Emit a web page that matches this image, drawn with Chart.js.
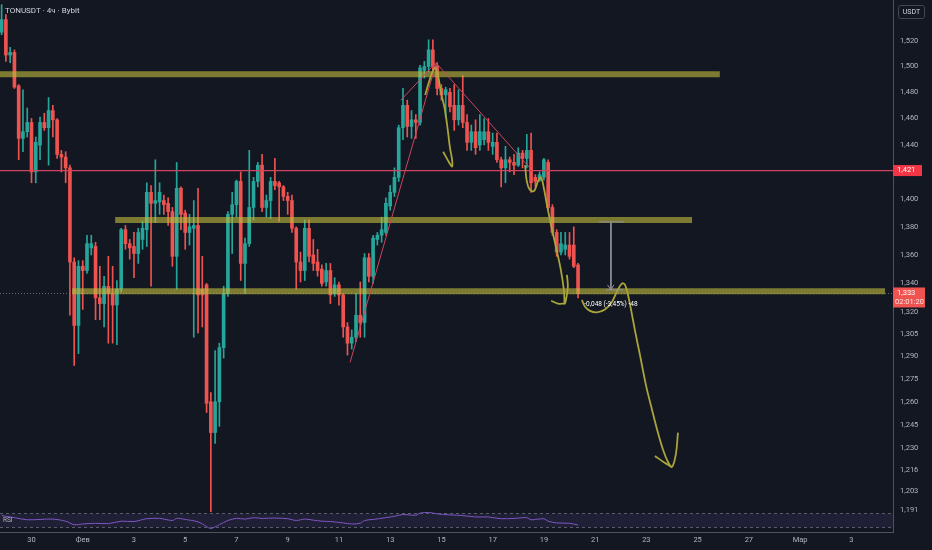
<!DOCTYPE html>
<html>
<head>
<meta charset="utf-8">
<script src="https://cdn.jsdelivr.net/npm/chart.js@4.4.1/dist/chart.umd.min.js"></script>
<style>
  html, body { margin: 0; padding: 0; background: #131722; }
  #wrap { width: 932px; height: 550px; }
</style>
</head>
<body>
<div id="wrap"><canvas id="tonChart" width="932" height="550"></canvas></div>
<script>
// 4h bars, bar 0 = 30 Jan 00:00, first candle on screen is bar -7
const firstBar = -7;

const opens = [
  1.527, 1.537, 1.509, 1.511, 1.485, 1.445, 1.450, 1.457, 1.420, 1.440,
  1.457, 1.453, 1.466, 1.459, 1.433, 1.431, 1.423, 1.355, 1.311, 1.352,
  1.349, 1.365, 1.366, 1.330, 1.326, 1.338, 1.333, 1.325, 1.336, 1.378,
  1.368, 1.366, 1.361, 1.371, 1.378, 1.405, 1.397, 1.398, 1.399, 1.397,
  1.391, 1.359, 1.408, 1.390, 1.376, 1.379, 1.381, 1.336, 1.339, 1.260,
  1.240, 1.260, 1.296, 1.333, 1.389, 1.396, 1.413, 1.354, 1.368, 1.394,
  1.413, 1.425, 1.394, 1.399, 1.413, 1.412, 1.409, 1.402, 1.399, 1.379,
  1.355, 1.349, 1.379, 1.360, 1.355, 1.350, 1.341, 1.349, 1.333, 1.339,
  1.332, 1.310, 1.299, 1.303, 1.318, 1.313, 1.358, 1.345, 1.371, 1.374,
  1.376, 1.395, 1.405, 1.416, 1.453, 1.470, 1.454, 1.459, 1.457, 1.497,
  1.500, 1.513, 1.500, 1.483, 1.478, 1.480, 1.470, 1.459, 1.470, 1.457,
  1.442, 1.450, 1.440, 1.444, 1.450, 1.439, 1.442, 1.429, 1.423, 1.429,
  1.427, 1.425, 1.434, 1.430, 1.436, 1.416, 1.414, 1.416, 1.427, 1.394,
  1.376, 1.362, 1.364, 1.367, 1.367, 1.353
];
const highs = [
  1.549, 1.541, 1.515, 1.513, 1.486, 1.482, 1.468, 1.460, 1.446, 1.461,
  1.464, 1.476, 1.470, 1.460, 1.436, 1.435, 1.425, 1.358, 1.356, 1.356,
  1.374, 1.374, 1.369, 1.352, 1.345, 1.359, 1.352, 1.342, 1.379, 1.381,
  1.371, 1.376, 1.379, 1.384, 1.412, 1.410, 1.429, 1.412, 1.403, 1.401,
  1.394, 1.427, 1.409, 1.392, 1.389, 1.399, 1.408, 1.359, 1.340, 1.266,
  1.294, 1.299, 1.338, 1.391, 1.405, 1.414, 1.420, 1.372, 1.436, 1.416,
  1.427, 1.433, 1.403, 1.416, 1.430, 1.413, 1.410, 1.405, 1.403, 1.380,
  1.362, 1.385, 1.385, 1.371, 1.364, 1.353, 1.354, 1.354, 1.344, 1.341,
  1.333, 1.313, 1.308, 1.333, 1.341, 1.361, 1.361, 1.374, 1.376, 1.387,
  1.401, 1.410, 1.423, 1.455, 1.483, 1.474, 1.466, 1.463, 1.501, 1.504,
  1.521, 1.521, 1.503, 1.486, 1.484, 1.483, 1.486, 1.482, 1.493, 1.463,
  1.455, 1.459, 1.463, 1.460, 1.460, 1.449, 1.449, 1.431, 1.439, 1.431,
  1.433, 1.438, 1.436, 1.448, 1.449, 1.418, 1.420, 1.430, 1.429, 1.396,
  1.378, 1.376, 1.376, 1.376, 1.380, 1.354
];
const lows = [
  1.525, 1.504, 1.503, 1.483, 1.429, 1.435, 1.446, 1.412, 1.412, 1.429,
  1.451, 1.425, 1.446, 1.430, 1.420, 1.412, 1.318, 1.284, 1.292, 1.322,
  1.347, 1.360, 1.315, 1.315, 1.310, 1.299, 1.299, 1.298, 1.334, 1.364,
  1.357, 1.344, 1.354, 1.364, 1.366, 1.338, 1.383, 1.389, 1.389, 1.381,
  1.352, 1.336, 1.378, 1.364, 1.367, 1.303, 1.306, 1.310, 1.253, 1.190,
  1.233, 1.244, 1.289, 1.331, 1.361, 1.387, 1.342, 1.333, 1.366, 1.385,
  1.409, 1.391, 1.387, 1.386, 1.407, 1.384, 1.399, 1.389, 1.376, 1.336,
  1.341, 1.342, 1.355, 1.349, 1.345, 1.338, 1.338, 1.326, 1.331, 1.325,
  1.303, 1.291, 1.295, 1.300, 1.303, 1.303, 1.341, 1.340, 1.367, 1.369,
  1.374, 1.392, 1.402, 1.413, 1.444, 1.446, 1.445, 1.445, 1.455, 1.491,
  1.496, 1.497, 1.478, 1.474, 1.461, 1.465, 1.451, 1.455, 1.453, 1.436,
  1.436, 1.433, 1.436, 1.440, 1.436, 1.433, 1.427, 1.409, 1.412, 1.420,
  1.418, 1.424, 1.423, 1.423, 1.405, 1.409, 1.413, 1.414, 1.392, 1.374,
  1.359, 1.360, 1.360, 1.357, 1.351, 1.330
];
const closes = [
  1.537, 1.509, 1.511, 1.484, 1.445, 1.450, 1.457, 1.420, 1.442, 1.457,
  1.453, 1.466, 1.459, 1.433, 1.431, 1.423, 1.355, 1.311, 1.352, 1.349,
  1.368, 1.368, 1.330, 1.326, 1.338, 1.333, 1.325, 1.336, 1.378, 1.368,
  1.365, 1.361, 1.376, 1.379, 1.405, 1.397, 1.399, 1.405, 1.396, 1.391,
  1.359, 1.408, 1.389, 1.376, 1.380, 1.381, 1.332, 1.332, 1.259, 1.240,
  1.260, 1.296, 1.333, 1.389, 1.396, 1.413, 1.354, 1.368, 1.394, 1.413,
  1.425, 1.394, 1.399, 1.413, 1.410, 1.409, 1.402, 1.399, 1.379, 1.355,
  1.349, 1.379, 1.359, 1.354, 1.349, 1.340, 1.349, 1.332, 1.339, 1.332,
  1.310, 1.299, 1.303, 1.318, 1.313, 1.358, 1.345, 1.372, 1.374, 1.378,
  1.397, 1.405, 1.416, 1.453, 1.470, 1.454, 1.459, 1.457, 1.499, 1.500,
  1.513, 1.500, 1.483, 1.478, 1.482, 1.469, 1.459, 1.470, 1.457, 1.442,
  1.450, 1.438, 1.450, 1.450, 1.442, 1.442, 1.429, 1.423, 1.429, 1.427,
  1.425, 1.434, 1.430, 1.436, 1.412, 1.413, 1.418, 1.429, 1.394, 1.376,
  1.362, 1.368, 1.367, 1.359, 1.352, 1.333
];

const rsiBars = [-7, -4, -1, 2, 5, 8, 10, 12, 15, 18, 21, 24, 27, 30, 33, 34, 36, 39, 41, 42,
  44, 46, 48, 50, 52, 54, 57, 60, 62, 64, 66, 68, 70, 73, 75, 77, 78, 80, 83, 85,
  87, 90, 91, 93, 95, 98, 101, 104, 107, 110, 113, 116, 117, 120, 121, 123, 126, 128];
const rsiValues = [64, 58, 52, 53, 54, 48, 38, 40, 42, 41, 48, 47, 55, 56, 50, 56, 53, 46, 33, 27,
  38, 50, 56, 54, 58, 56, 57, 55, 50, 54, 51, 48, 47, 43, 40, 42, 50, 53, 58, 62,
  67, 65, 71, 73, 69, 66, 64, 60, 60, 55, 56, 58, 52, 55, 48, 43, 42, 37];

// axes
const xTickBars = [0, 12, 24, 36, 48, 60, 72, 84, 96, 108, 120, 132, 144, 156, 168, 180, 192];
const xTickLabels = ['30', 'Фев', '3', '5', '7', '9', '11', '13', '15', '17', '19', '21', '23', '25', '27', 'Мар', '3'];
const yTickValues = [1.52, 1.5, 1.48, 1.46, 1.44, 1.4, 1.38, 1.36, 1.34, 1.32, 1.305, 1.29, 1.275, 1.26, 1.245, 1.23, 1.216, 1.203, 1.191];

const lastPrice = 1.333;
const redLevel = 1.421;

// drawings on the chart: [bar, price]
const zoneHigh = [[-8, 1.494], [161.2, 1.494]];
const zoneMid = [[19.6, 1.385], [154.7, 1.385]];
const zoneLow = [[9.5, 1.3345], [199.9, 1.3345]];
const trendUp = [[74.6, 1.286], [94.7, 1.502]];
const trendTop = [[86.5, 1.474], [94.7, 1.503], [116.7, 1.423]];
const sketchPeak = [[92.2, 1.478], [92.9, 1.486], [93.8, 1.495], [94.5, 1.499], [95.2, 1.493], [95.9, 1.480],
  [96.8, 1.467], [97.5, 1.451], [98.0, 1.438], [98.5, 1.429], [98.5, 1.424], [97.8, 1.427], [97.1, 1.431], [96.4, 1.435]];
const sketchDrop = [[115.6, 1.425], [116.0, 1.413], [116.7, 1.407], [117.7, 1.406], [118.6, 1.413], [119.3, 1.416],
  [120.0, 1.408], [120.7, 1.396], [121.7, 1.381], [122.8, 1.366], [124.0, 1.349], [124.7, 1.335],
  [124.9, 1.326], [125.6, 1.337], [125.4, 1.346]];
const sketchDropHook = [[121.7, 1.328], [123.3, 1.326], [124.9, 1.326]];
const sketchForecast = [[128.9, 1.3285], [129.6, 1.324], [130.8, 1.321], [132.4, 1.320], [134.3, 1.322],
  [135.9, 1.327], [137.3, 1.3355], [138.3, 1.340], [139.0, 1.339], [139.7, 1.332], [140.4, 1.322],
  [141.3, 1.308], [142.5, 1.291], [143.9, 1.271], [145.3, 1.255], [146.7, 1.240], [147.9, 1.229],
  [149.1, 1.221], [150.0, 1.218], [150.9, 1.226], [151.4, 1.240]];
const sketchForecastHook = [[146.0, 1.225], [148.1, 1.221], [150.0, 1.218]];
const measureStem = [[135.7, 1.3836], [135.7, 1.3355]];
const measureTop = [[132.9, 1.3836], [138.8, 1.3836]];
const measureBottom = [[134.5, 1.3355], [138.6, 1.3355]];
const measureArrow = [[134.9, 1.339], [135.7, 1.3355], [136.4, 1.339]];
const measureText = '-0,048 (-3,45%) -48';

const GREEN = '#26a69a';
const RED = '#ef5350';
const xMin = -7.377, xMax = 201.76;

const bars = opens.map((o, k) => firstBar + k);
const isUp = k => closes[k] >= opens[k];
const pts = arr => arr.map(p => ({ x: p[0], y: p[1] }));
const fmt = v => v.toFixed(3).replace('.', ',');

const lineDs = (data, color, width, order, extra) => Object.assign({
  type: 'line', data: pts(data), borderColor: color, borderWidth: width,
  pointRadius: 0, fill: false, order: order, tension: 0
}, extra || {});

const overlay = {
  id: 'overlay',
  beforeDatasetsDraw(chart) {
    const { ctx, chartArea: a, scales: { yr } } = chart;
    const y70 = yr.getPixelForValue(70), y30 = yr.getPixelForValue(30);
    ctx.save();
    ctx.fillStyle = 'rgba(126, 87, 194, 0.12)';
    ctx.fillRect(a.left, y70, a.right - a.left, y30 - y70);
    ctx.strokeStyle = 'rgba(120, 123, 134, 0.7)';
    ctx.lineWidth = 1;
    ctx.setLineDash([3, 3]);
    [70, 30].forEach(v => {
      const y = Math.round(yr.getPixelForValue(v)) + 0.5;
      ctx.beginPath(); ctx.moveTo(a.left, y); ctx.lineTo(a.right, y); ctx.stroke();
    });
    ctx.restore();
  },
  afterDraw(chart) {
    const { ctx, chartArea: a, scales: { x, y, yr } } = chart;
    ctx.save();
    ctx.textBaseline = 'middle';

    // symbol title
    ctx.fillStyle = '#d1d4dc';
    ctx.font = '8px Roboto';
    ctx.textAlign = 'left';
    ctx.fillText('TONUSDT · 4ч · Bybit', 5, 11);

    // RSI pane label
    ctx.fillStyle = '#b2b5be';
    ctx.font = '6.5px Roboto';
    ctx.fillText('RSI', 3, yr.getPixelForValue(50));

    // measure label
    ctx.fillStyle = '#ffffff';
    ctx.font = '6.5px Roboto';
    ctx.textAlign = 'center';
    ctx.fillText(measureText, x.getPixelForValue(measureStem[0][0]), y.getPixelForValue(1.3258));

    // price labels on the axis
    ctx.textAlign = 'left';
    ctx.font = '7.5px Roboto';
    const yr1 = y.getPixelForValue(redLevel);
    ctx.fillStyle = '#f23645';
    ctx.fillRect(a.right, yr1 - 5.5, 29, 11);
    ctx.fillStyle = '#ffffff';
    ctx.fillText(fmt(redLevel), a.right + 4, yr1);

    const yl = y.getPixelForValue(lastPrice);
    ctx.fillStyle = '#ef5350';
    ctx.fillRect(a.right, yl - 6, 32, 20);
    ctx.fillStyle = '#ffffff';
    ctx.fillText(fmt(lastPrice), a.right + 4, yl);
    ctx.fillStyle = '#fde2e2';
    ctx.fillText('02:01:20', a.right + 2, yl + 8.5);

    // currency box
    ctx.strokeStyle = '#434651';
    ctx.fillStyle = '#131722';
    ctx.lineWidth = 1;
    ctx.beginPath();
    ctx.roundRect(898.5, 5.5, 26, 13, 2);
    ctx.fill(); ctx.stroke();
    ctx.fillStyle = '#d1d4dc';
    ctx.font = '7px Roboto';
    ctx.textAlign = 'center';
    ctx.fillText('USDT', 911.5, 12);
    ctx.restore();
  }
};

const zoneColor = 'rgba(190, 185, 60, 0.62)';
const trendColor = '#cf4460';
const sketchColor = '#a9a53b';
const measureColor = '#8f929b';

new Chart(document.getElementById('tonChart'), {
  type: 'bar',
  data: {
    datasets: [
      {
        data: bars.map((b, k) => ({ x: b, y: [lows[k], highs[k]] })),
        backgroundColor: c => isUp(c.dataIndex) ? GREEN : RED,
        barThickness: 1, grouped: false, order: 20
      },
      {
        data: bars.map((b, k) => ({ x: b, y: [opens[k], closes[k]] })),
        backgroundColor: c => isUp(c.dataIndex) ? GREEN : RED,
        barThickness: 3, minBarLength: 1, grouped: false, order: 19
      },
      lineDs([[xMin, lastPrice], [xMax, lastPrice]], 'rgba(140, 143, 154, 0.7)', 1, 15, { borderDash: [1, 2] }),
      lineDs(zoneHigh, zoneColor, 6, 12),
      lineDs(zoneMid, zoneColor, 6, 12),
      lineDs(zoneLow, zoneColor, 6, 12),
      lineDs([[xMin, redLevel], [xMax, redLevel]], trendColor, 1.2, 10),
      lineDs(trendUp, trendColor, 1, 8),
      lineDs(trendTop, trendColor, 1, 8),
      lineDs(sketchPeak, sketchColor, 1.8, 6, { tension: 0.35 }),
      lineDs(sketchDrop, sketchColor, 1.8, 6, { tension: 0.35 }),
      lineDs(sketchDropHook, sketchColor, 1.8, 6, { tension: 0.35 }),
      lineDs(sketchForecast, sketchColor, 1.8, 6, { tension: 0.35 }),
      lineDs(sketchForecastHook, sketchColor, 1.8, 6, { tension: 0.35 }),
      lineDs(measureStem, measureColor, 1, 5),
      lineDs(measureTop, measureColor, 1, 5),
      lineDs(measureBottom, measureColor, 1, 5),
      lineDs(measureArrow, measureColor, 1, 5),
      {
        type: 'line', yAxisID: 'yr',
        data: rsiBars.map((b, k) => ({ x: b, y: rsiValues[k] })),
        borderColor: '#7e57c2', borderWidth: 1, pointRadius: 0, tension: 0.3, order: 4
      }
    ]
  },
  options: {
    responsive: false,
    animation: false,
    layout: { padding: 0 },
    plugins: { legend: { display: false }, tooltip: { enabled: false } },
    scales: {
      x: {
        type: 'linear', min: xMin, max: xMax, bounds: 'data', offset: false,
        grid: { display: false, drawTicks: false },
        border: { display: true, color: '#50535e' },
        ticks: {
          autoSkip: false, maxRotation: 0, minRotation: 0, padding: 4,
          color: '#b2b5be', font: { family: 'Roboto', size: 7.5 },
          callback: (v, i) => xTickLabels[i]
        },
        afterBuildTicks: s => { s.ticks = xTickBars.map(v => ({ value: v })); },
        afterFit: s => { s.height = 18; s.paddingLeft = 0; s.paddingRight = 0; }
      },
      y: {
        type: 'logarithmic', position: 'right', min: 1.1775, max: 1.5528, bounds: 'data',
        grid: { display: false, drawTicks: false },
        border: { display: true, color: '#50535e' },
        ticks: {
          autoSkip: false, padding: 7,
          color: '#b2b5be', font: { family: 'Roboto', size: 7.5 },
          callback: v => fmt(v)
        },
        afterBuildTicks: s => { s.ticks = yTickValues.map(v => ({ value: v })); },
        afterFit: s => { s.width = 39; s.paddingTop = 0; s.paddingBottom = 0; }
      },
      yr: {
        type: 'linear', display: false, min: 17.1, max: 1537
      }
    }
  },
  plugins: [overlay]
});
</script>
</body>
</html>
